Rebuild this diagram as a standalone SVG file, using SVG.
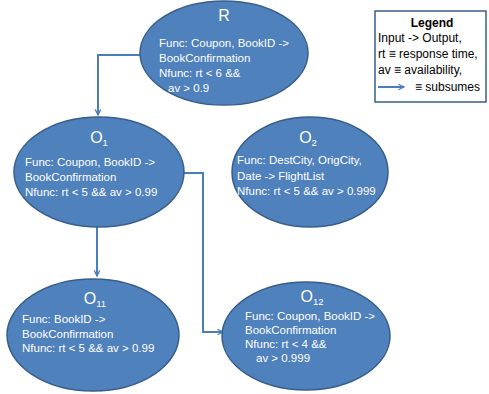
<svg xmlns="http://www.w3.org/2000/svg" width="489" height="394" viewBox="0 0 489 394">
<defs>
<style>
.n{fill:#4f81bd;stroke:#385d8a;stroke-width:1.5}
.t{font-family:"Liberation Sans",Arial,sans-serif;font-size:11.5px;fill:#fff}
.h{font-family:"Liberation Sans",Arial,sans-serif;font-size:16px;fill:#fff;text-anchor:middle}
.s{font-size:9.5px}
.c{fill:none;stroke:#4a7ebb;stroke-width:2}
.l{font-family:"Liberation Sans",Arial,sans-serif;font-size:12px;fill:#000}
</style>
<marker id="a" viewBox="0 0 10 10" refX="9" refY="5" markerWidth="7" markerHeight="7" markerUnits="userSpaceOnUse" orient="auto" overflow="visible">
<path d="M1,1 L9,5 L1,9" fill="none" stroke="#4a7ebb" stroke-width="1.8"/>
</marker>
</defs>
<rect width="489" height="394" fill="#fff"/>
<g id="connectors">
<path class="c" d="M141,55 H98 V115" marker-end="url(#a)"/>
<path class="c" d="M97,227 V276" marker-end="url(#a)"/>
<path class="c" d="M183,173 H203 V332 H223" marker-end="url(#a)"/>
</g>
<g id="R">
<ellipse class="n" cx="224" cy="53" rx="84" ry="52"/>
<text class="h" x="224" y="21">R</text>
<text class="t" x="159" y="47">Func: Coupon, BookID -&gt;</text>
<text class="t" x="159" y="62">BookConfirmation</text>
<text class="t" x="159" y="77">Nfunc: rt &lt; 6 &amp;&amp;</text>
<text class="t" x="168" y="92">av &gt; 0.9</text>
</g>
<g id="O1">
<ellipse class="n" cx="99" cy="172" rx="85" ry="55"/>
<text class="h" x="99" y="143">O<tspan class="s" dy="3">1</tspan></text>
<text class="t" x="25" y="166">Func: Coupon, BookID -&gt;</text>
<text class="t" x="25" y="181">BookConfirmation</text>
<text class="t" x="25" y="196">Nfunc: rt &lt; 5 &amp;&amp; av &gt; 0.99</text>
</g>
<g id="O2">
<ellipse class="n" cx="310" cy="172" rx="78" ry="55"/>
<text class="h" x="308" y="143">O<tspan class="s" dy="3">2</tspan></text>
<text class="t" x="237" y="164">Func: DestCity, OrigCity,</text>
<text class="t" x="237" y="180">Date -&gt; FlightList</text>
<text class="t" x="237" y="195">Nfunc: rt &lt; 5 &amp;&amp; av &gt; 0.999</text>
</g>
<g id="O11">
<ellipse class="n" cx="93" cy="335" rx="86" ry="56"/>
<text class="h" x="95" y="304">O<tspan class="s" dy="3">11</tspan></text>
<text class="t" x="22" y="323">Func: BookID -&gt;</text>
<text class="t" x="22" y="338">BookConfirmation</text>
<text class="t" x="22" y="352">Nfunc: rt &lt; 5 &amp;&amp; av &gt; 0.99</text>
</g>
<g id="O12">
<ellipse class="n" cx="306" cy="336" rx="84" ry="54"/>
<text class="h" x="312" y="302">O<tspan class="s" dy="3">12</tspan></text>
<text class="t" x="245" y="320">Func: Coupon, BookID -&gt;</text>
<text class="t" x="245" y="334">BookConfirmation</text>
<text class="t" x="245" y="348">Nfunc: rt &lt; 4 &amp;&amp;</text>
<text class="t" x="256" y="362">av &gt; 0.999</text>
</g>
<g id="legend">
<rect x="375" y="11" width="111" height="91" fill="#fff" stroke="#385d8a" stroke-width="1.5"/>
<text class="l" x="432" y="27" text-anchor="middle" font-weight="bold">Legend</text>
<text class="l" x="378" y="42">Input -&gt; Output,</text>
<text class="l" x="378" y="58">rt ≡ response time,</text>
<text class="l" x="378" y="74">av ≡ availability,</text>
<path class="c" d="M378,87 H404" marker-end="url(#a)"/>
<text class="l" x="415" y="91">≡ subsumes</text>
</g>
</svg>
